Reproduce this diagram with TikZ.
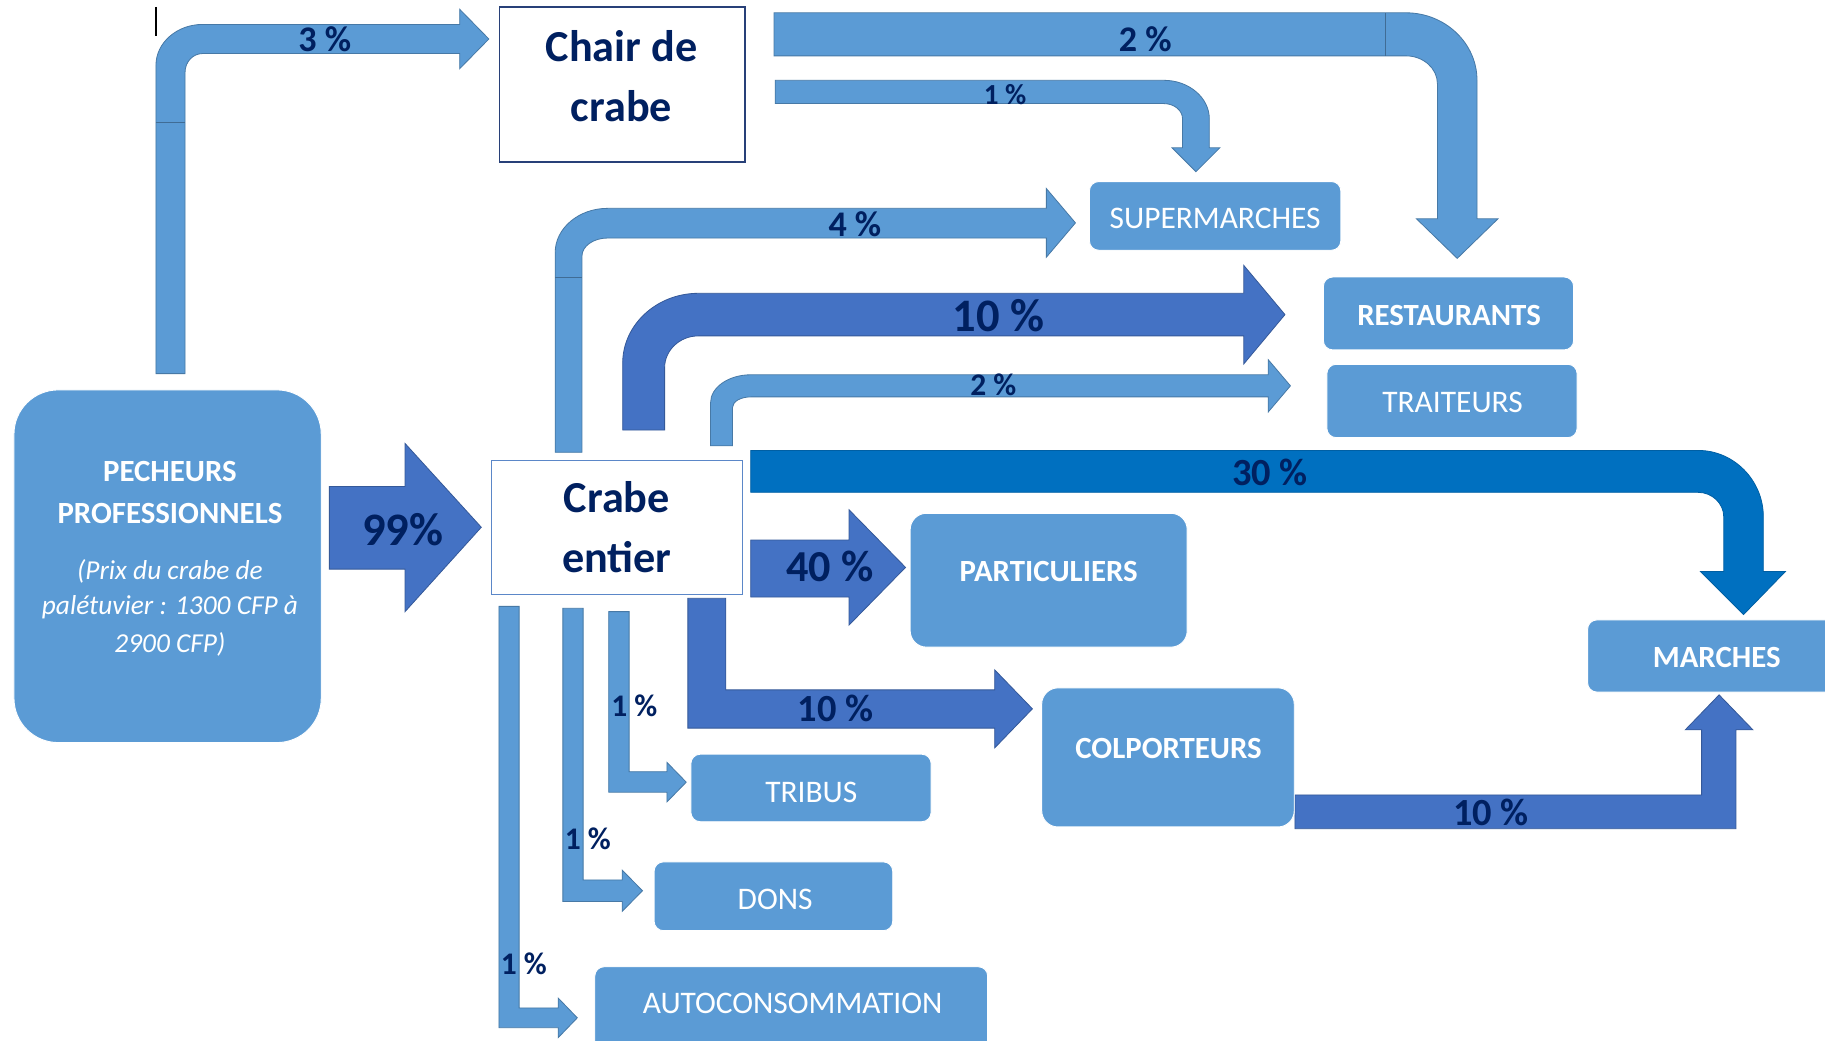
\documentclass[tikz,border=0pt]{standalone}
\usepackage{fontspec}
\setmainfont{Carlito}
\definecolor{lblue}{RGB}{91,155,213}
\definecolor{mblue}{RGB}{68,114,196}
\definecolor{sblue}{RGB}{0,112,192}
\definecolor{navy}{RGB}{0,32,96}
\definecolor{chairb}{RGB}{40,64,120}
\definecolor{crabeb}{RGB}{91,135,200}
\tikzset{
  lfl/.style={fill=lblue, draw=lblue!78!black, line width=0.7pt},
  mfl/.style={fill=mblue, draw=mblue!78!black, line width=0.7pt},
  sfl/.style={fill=sblue, draw=sblue!85!black, line width=0.7pt},
  seam/.style={draw=lblue!70!black, line width=0.7pt},
  boxs/.style={rectangle, rounded corners=#1, fill=lblue, draw=white, line width=0.8pt, inner sep=0pt},
  boxs/.default=8pt,
  lbl/.style={text=navy, inner sep=0pt, font=\bfseries\fontsize{#1}{#1}\selectfont},
  lbl/.default=27,
  wtb/.style={text=white, inner sep=0pt, font=\bfseries\fontsize{26.5}{30}\selectfont},
  wtr/.style={text=white, inner sep=0pt, font=\fontsize{27}{30}\selectfont},
  wti/.style={text=white, inner sep=0pt, font=\itshape\fontsize{23.5}{26}\selectfont},
  big/.style={text=navy, inner sep=0pt, font=\bfseries\fontsize{38}{40}\selectfont},
}
\begin{document}
\begin{tikzpicture}[x=1pt,y=-1pt]
\clip (0,0) rectangle (1568,894);
\fill[white] (0,0) rectangle (1568,894);

% cursor mark
\draw[black, line width=1.2pt] (134,6) -- (134,31);

% ---- 3 % : pecheurs -> chair de crabe
\path[lfl] (134,321) -- (134,56) .. controls (134,36.75) and (152,21) .. (174,21)
  -- (395,21) -- (395,8) -- (420,33.5) -- (395,59) -- (395,46) -- (174,46)
  .. controls (165.75,46) and (159,53.2) .. (159,62) -- (159,321) -- cycle;
\draw[seam] (134,105) -- (159,105);

% ---- 2 % : chair -> restaurants
\path[lfl] (665,11) -- (1208,11) .. controls (1241.5,11) and (1269,37) .. (1269,69)
  -- (1269,188) -- (1287,188) -- (1252,222) -- (1217,188) -- (1235,188) -- (1235,72)
  .. controls (1235,58.8) and (1222.9,48) .. (1208,48) -- (665,48) -- cycle;
\draw[seam] (1190,11) -- (1190,48);

% ---- 1 % : chair -> supermarches
\path[lfl] (666,69) -- (1000,69) .. controls (1021.5,69) and (1039,84) .. (1039,102)
  -- (1039,127) -- (1048,127) -- (1027.5,147.5) -- (1007,127) -- (1016,127) -- (1016,102)
  .. controls (1016,95) and (1009,89) .. (1000,89) -- (666,89) -- cycle;

% ---- 4 % : crabe -> supermarches
\path[lfl] (477,388.6) -- (477,217) .. controls (477,196.1) and (497.25,179) .. (522,179)
  -- (899,179) -- (899,162) -- (924,191.5) -- (899,221) -- (899,204.5) -- (522,204.5)
  .. controls (509.9,204.5) and (500,211.5) .. (500,220) -- (500,388.6) -- cycle;
\draw[seam] (477,238) -- (500,238);

% ---- 10 % : crabe -> restaurants
\path[mfl] (535,369.5) -- (535,312) .. controls (535,279) and (564.25,252) .. (600,252)
  -- (1068.6,252) -- (1068.6,228) -- (1104,270.3) -- (1068.6,312.7) -- (1068.6,288.6) -- (600,288.6)
  .. controls (584,288.6) and (571,300.9) .. (571,316) -- (571,369.5) -- cycle;

% ---- 2 % : crabe -> traiteurs
\path[lfl] (610.5,383) -- (610.5,346) .. controls (610.5,332.8) and (626,322) .. (645,322)
  -- (1089.6,322) -- (1089.6,309) -- (1108.7,331.5) -- (1089.6,354) -- (1089.6,341) -- (645,341)
  .. controls (636.4,341) and (629.4,345) .. (629.4,350) -- (629.4,383) -- cycle;

% ---- 30 % : crabe -> marches
\path[sfl] (645,387) -- (1459,387) .. controls (1490,387) and (1515,413) .. (1515,444)
  -- (1515,491) -- (1534,491) -- (1498,528) -- (1461,491) -- (1481,491) -- (1481,444)
  .. controls (1481,432.5) and (1471,423) .. (1459,423) -- (645,423) -- cycle;

% ---- 99 %
\path[mfl] (283,418) -- (348,418) -- (348,381) -- (413.5,453) -- (348,525.5) -- (348,489) -- (283,489) -- cycle;

% ---- 40 %
\path[mfl] (645,464) -- (729.5,464) -- (729.5,438) -- (778,487.5) -- (729.5,537) -- (729.5,513) -- (645,513) -- cycle;

% ---- 10 % : crabe -> colporteurs
\path[mfl] (591,514) -- (591,625.6) -- (854.6,625.6) -- (854.6,642.6) -- (887,609) -- (854.6,575.5)
  -- (854.6,592.7) -- (623.6,592.7) -- (623.6,514) -- cycle;

% ---- 10 % : colporteurs -> marches
\path[mfl] (1112.6,683) -- (1462,683) -- (1462,627) -- (1448,627) -- (1477,597) -- (1506,627)
  -- (1491.5,627) -- (1491.5,712) -- (1112.6,712) -- cycle;

% ---- 1 % tribus
\path[lfl] (523,525.5) -- (523,680.6) -- (573,680.6) -- (573,689) -- (589.6,672) -- (573,655)
  -- (573,663) -- (540.5,663) -- (540.5,525.5) -- cycle;
% ---- 1 % dons
\path[lfl] (483.6,522.6) -- (483.6,774.6) -- (534.6,774.6) -- (534.6,783) -- (552,765.3) -- (534.6,747.6)
  -- (534.6,756) -- (501,756) -- (501,522.6) -- cycle;
% ---- 1 % autoconsommation
\path[lfl] (428.7,521) -- (428.7,883) -- (479.6,883) -- (479.6,891.5) -- (496,874.5) -- (479.6,857.5)
  -- (479.6,866) -- (446,866) -- (446,521) -- cycle;

% ---- boxes
\node[boxs=38pt, minimum width=264pt, minimum height=303pt] (pech) at (144,486.5) {};
\node[rectangle, fill=white, draw=chairb, line width=1.3pt, minimum width=211pt, minimum height=133pt, inner sep=0pt] (chair) at (534.5,72.5) {};
\node[rectangle, fill=white, draw=crabeb, line width=1pt, minimum width=216pt, minimum height=115pt, inner sep=0pt] (crabe) at (530,453.5) {};
\node[boxs, minimum width=216pt, minimum height=59pt] (sup) at (1044,185.5) {};
\node[boxs, minimum width=215pt, minimum height=62.6pt] (rest) at (1244.5,269.3) {};
\node[boxs, minimum width=215pt, minimum height=63pt] (trait) at (1247.5,344.5) {};
\node[boxs=14pt, minimum width=238pt, minimum height=115pt] (part) at (901,498.5) {};
\node[boxs=14pt, minimum width=217pt, minimum height=119.5pt] (colp) at (1003.5,650.75) {};
\node[boxs, minimum width=240pt, minimum height=62pt] (march) at (1484,563.6) {};
\node[boxs, minimum width=206.4pt, minimum height=58pt] (trib) at (696.8,677) {};
\node[boxs, minimum width=205pt, minimum height=59.1pt] (dons) at (664.5,770.05) {};
\node[boxs, minimum width=337.6pt, minimum height=80pt] (auto) at (679.8,870.6) {};

% ---- box texts
\node[wtb] (tpech1) at (146,405) {PECHEURS};
\node[wtb] (tpech2) at (146,441) {PROFESSIONNELS};
\node[wti] (tpech3) at (146,491) {(Prix du crabe de};
\node[wti] (tpech4) at (146,522) {palétuvier : 1300 CFP à};
\node[wti] (tpech5) at (146,554) {2900 CFP)};
\node[big] (tchair1) at (534,40) {Chair de};
\node[big] (tchair2) at (534,91) {crabe};
\node[big] (tcrabe1) at (530,427) {Crabe};
\node[big] (tcrabe2) at (530,479) {entier};
\node[wtr] (tsup) at (1044,188) {SUPERMARCHES};
\node[wtb] (trest) at (1245,271) {RESTAURANTS};
\node[wtr] (ttrait) at (1248,346) {TRAITEURS};
\node[wtb] (tpart) at (901,491) {PARTICULIERS};
\node[wtb] (tcolp) at (1004,643) {COLPORTEURS};
\node[wtb] (tmarch) at (1475,565) {MARCHES};
\node[wtr] (ttrib) at (697,681) {TRIBUS};
\node[wtr] (tdons) at (666,773) {DONS};
\node[wtr] (tauto) at (681,862) {AUTOCONSOMMATION};

% ---- percentage labels
\node[lbl=31] (l3) at (279,34) {3 \%};
\node[lbl=31] (l2a) at (984,34) {2 \%};
\node[lbl=25] (l1a) at (863.5,81) {1 \%};
\node[lbl=31] (l4) at (734.5,193) {4 \%};
\node[lbl=40] (l10a) at (858,271) {10 \%};
\node[lbl=27] (l2b) at (853.5,331) {2 \%};
\node[lbl=33] (l30) at (1091,406) {30 \%};
\node[lbl=40] (l99) at (346,455) {99\%};
\node[lbl=38] (l40) at (713,487) {40 \%};
\node[lbl=33] (l10b) at (718,609) {10 \%};
\node[lbl=33] (l10c) at (1281,698) {10 \%};
\node[lbl=27] (l1b) at (545,606) {1 \%};
\node[lbl=27] (l1c) at (505,721) {1 \%};
\node[lbl=27] (l1d) at (450,828) {1 \%};
\end{tikzpicture}
\end{document}
